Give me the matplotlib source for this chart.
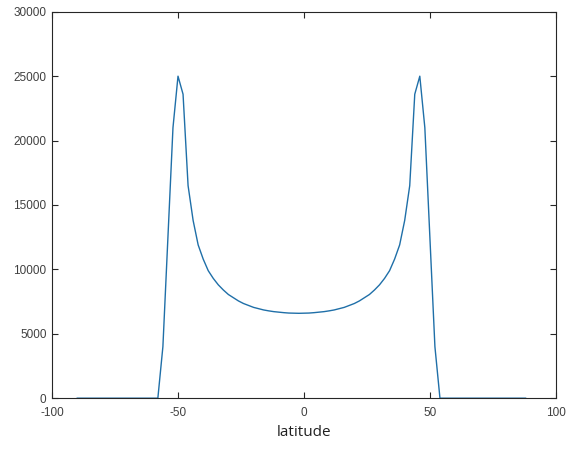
import matplotlib
matplotlib.use("Agg")
import matplotlib.pyplot as plt

plt.rcParams['axes.unicode_minus'] = False

# latitude grid and values
latitude = list(range(-90, 90, 2))
values = ([0] * 17 +
          [4000, 12500, 21000, 25000, 23600, 16500, 13800, 11900, 10800, 9900,
           9300, 8800, 8400, 8050, 7800, 7550, 7350, 7200, 7050, 6950,
           6850, 6780, 6720, 6680, 6640, 6610, 6600, 6590, 6600, 6610,
           6640, 6680, 6720, 6780, 6850, 6950, 7050, 7200, 7350, 7550,
           7800, 8050, 8400, 8800, 9300, 9900, 10800, 11900, 13800, 16500,
           23600, 25000, 21000, 12500, 4000] +
          [0] * 18)

xticks = [-100, -50, 0, 50, 100]
yticks = [0, 5000, 10000, 15000, 20000, 25000, 30000]

fig = plt.figure(figsize=(5.66, 4.53), dpi=100)
ax = fig.add_axes([0.092, 0.121, 0.890, 0.853])

ax.plot(latitude, values, color='#1f6fa8', lw=1.0)

ax.set_xlim(-100, 100)
ax.set_ylim(0, 30000)
ax.set_xticks(xticks)
ax.set_yticks(yticks)
ax.tick_params(direction='in', top=True, right=True, length=4, width=0.8,
               labelsize=8.5, labelcolor='#404040', color='#262626')
ax.tick_params(axis='x', pad=6)
ax.tick_params(axis='y', pad=4)
for lab in ax.get_xticklabels() + ax.get_yticklabels():
    lab.set_family('Liberation Sans')
for s in ax.spines.values():
    s.set_color('#262626')
    s.set_linewidth(0.8)

ax.set_xlabel('latitude', fontsize=11, family='Open Sans', color='#202020', labelpad=5)

fig.savefig('out.png', dpi=100)
